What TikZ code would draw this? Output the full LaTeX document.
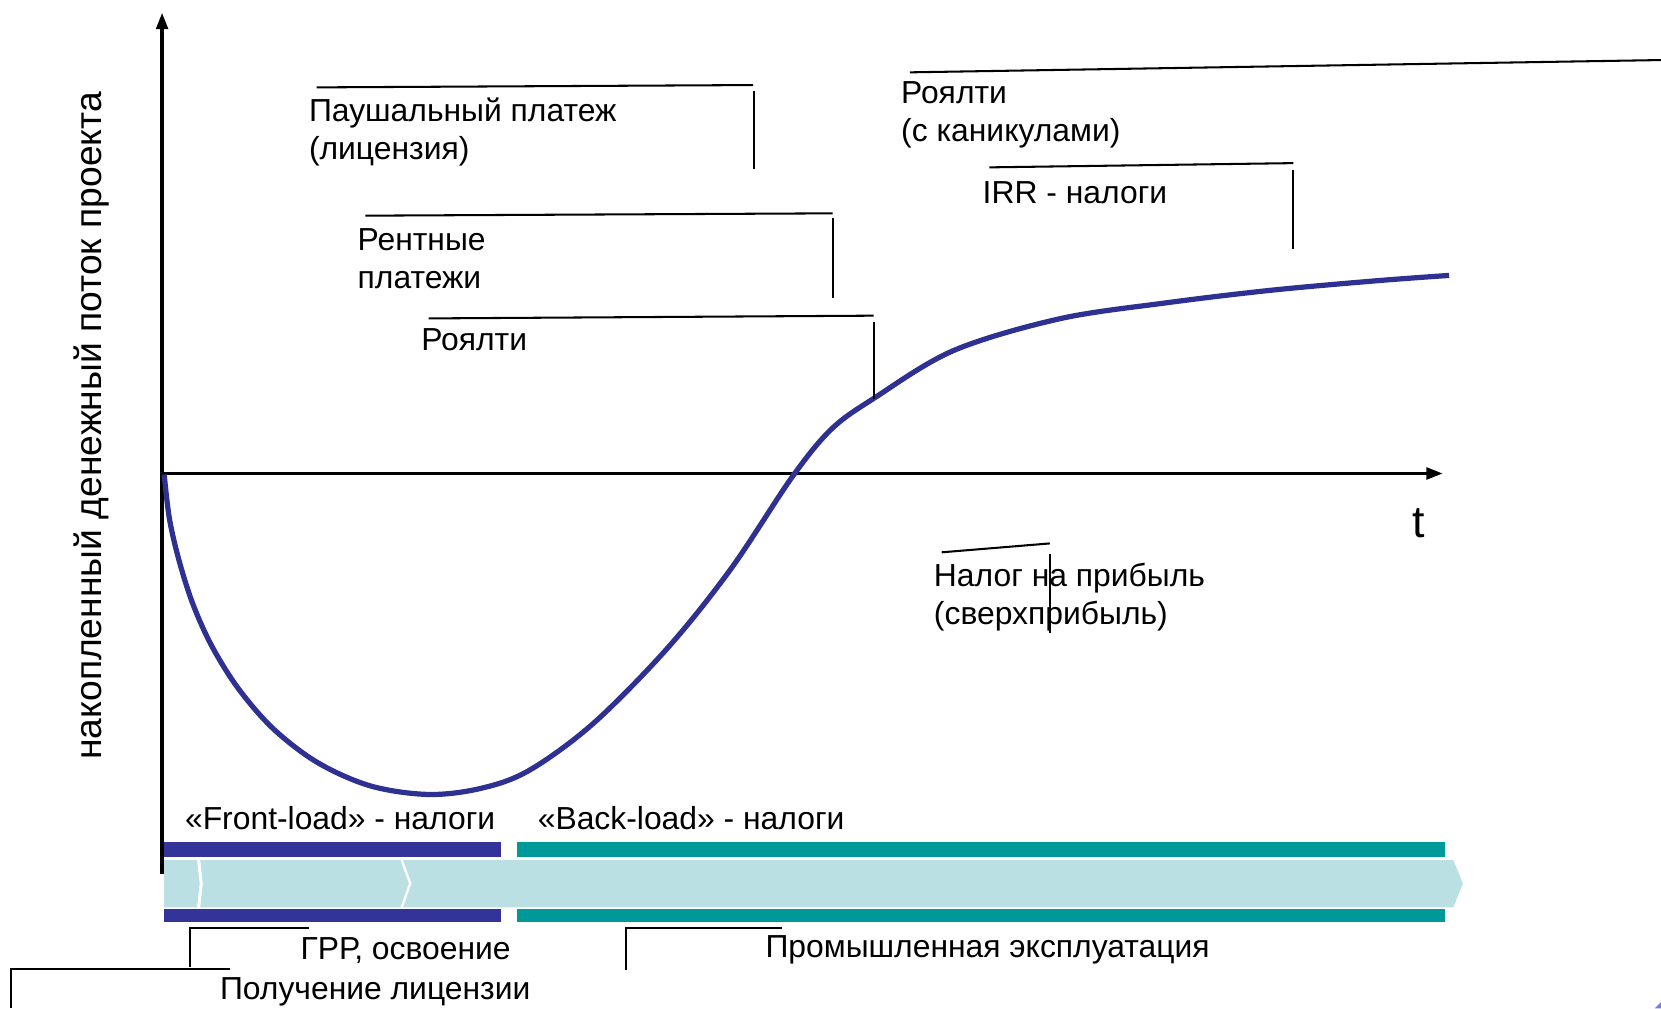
\documentclass[tikz,border=0pt]{standalone}
\usepackage{fontspec}
\setmainfont{Liberation Sans}
\usetikzlibrary{arrows.meta}

\definecolor{curveblue}{RGB}{46,49,146}
\definecolor{frontblue}{RGB}{51,51,153}
\definecolor{backteal}{RGB}{0,153,153}
\definecolor{stagecyan}{RGB}{187,224,227}
\definecolor{cornerviolet}{RGB}{123,123,239}

\begin{document}
\begin{tikzpicture}[x=0.01cm, y=-0.01cm,
	axisline/.style={line width=0.9pt, -{Triangle[length=0.155cm, width=0.11cm]}},
	callout/.style={line width=0.55pt},
	txt/.style={anchor=west, inner sep=0pt, align=left, font=\fontsize{8.55}{10.2}\selectfont}]
	\useasboundingbox (0,0) rectangle (1568,952);

	% stages
	\fill [frontblue] (155,794.5) rectangle (473,809);
	\fill [frontblue] (155,858) rectangle (473,870);
	\fill [backteal] (488,794.5) rectangle (1364,809);
	\fill [backteal] (488,858) rectangle (1364,870);
	\fill [stagecyan] (155,812) -- (186,812) -- (188.5,834) -- (186,856.5) -- (155,856.5) -- cycle;
	\fill [stagecyan] (189,812) -- (378,812) -- (386,834) -- (378,856.5) -- (189,856.5) -- (191.5,834) -- cycle;
	\fill [stagecyan] (380.5,812) -- (1372,812) -- (1381,834) -- (1372,856.5) -- (380.5,856.5) -- (388.5,834) -- cycle;

	% axes
	\coordinate (origin) at (153,447);
	\coordinate (ybottom) at (153,825);
	\coordinate (ytop) at (153,12);
	\coordinate (xend) at (1362,447);
	\draw [axisline] (ybottom) -- (ytop);
	\draw [axisline] (origin) -- (xend);
	\node (tlabel) [font=\fontsize{12}{14}\selectfont, inner sep=0pt] at (1339,494) {t};
	\node (ylabel) [rotate=90, inner sep=0pt, font=\fontsize{10}{12}\selectfont] at (86,402) {накопленный денежный поток проекта};

	\draw [curveblue, line width=1.4pt] plot [smooth, tension=0.55] coordinates {(155,448) (160,490) (169,529) (182,570) (200,610) (225,650) (258,688) (300,720) (350,742) (405,750) (455,744) (500,727) (560,683) (630,612) (690,537) (748,450) (785,405) (825,376) (900,331) (1000,301) (1100,286) (1200,274) (1300,265) (1368,260)};

	\node (lump) [txt] at (291,125) {Паушальный платеж\\(лицензия)};
	\draw [callout] (299,82.5) -- (711,80.3);
	\draw [callout] (712,85.6) -- (712,160);
	\node (rent) [txt] at (337,244) {Рентные\\платежи};
	\draw [callout] (345,203.6) -- (786,201.4);
	\draw [callout] (786,206) -- (786,281);
	\node (royalty) [txt] at (397,321) {Роялти};
	\draw [callout] (404.6,300.6) -- (824.8,298);
	\draw [callout] (825,303.7) -- (825,377);
	\node (holiday) [txt] at (850,108) {Роялти\\(с каникулами)};
	\draw [callout] (859,68.3) -- (1568,56.7);
	\node (irr) [txt] at (927,182) {IRR - налоги};
	\draw [callout] (934,158) -- (1221,154);
	\draw [callout] (1221,160.5) -- (1221,235.5);
	\node (profit) [txt] at (881,564) {Налог на прибыль\\(сверхприбыль)};
	\draw [callout] (889,521.4) -- (991,513);
	\draw [callout] (991,523) -- (991,598);

	\node (front) [txt] at (174,772) {«Front-load» - налоги};
	\node (back) [txt] at (507,772) {«Back-load» - налоги};
	\node (explore) [txt] at (283,897) {ГРР, освоение};
	\draw [callout] (292,876) -- (179.6,876) -- (179.6,912.5);
	\node (licence) [txt] at (207,936) {Получение лицензии};
	\draw [callout] (217,915) -- (10,915) -- (10,952);
	\node (production) [txt] at (722,897) {Промышленная эксплуатация};
	\draw [callout] (738,876) -- (590.8,876) -- (590.8,915.6);

	\fill [cornerviolet] (1562,952) -- (1568,946) -- (1568,952) -- cycle;
\end{tikzpicture}
\end{document}
